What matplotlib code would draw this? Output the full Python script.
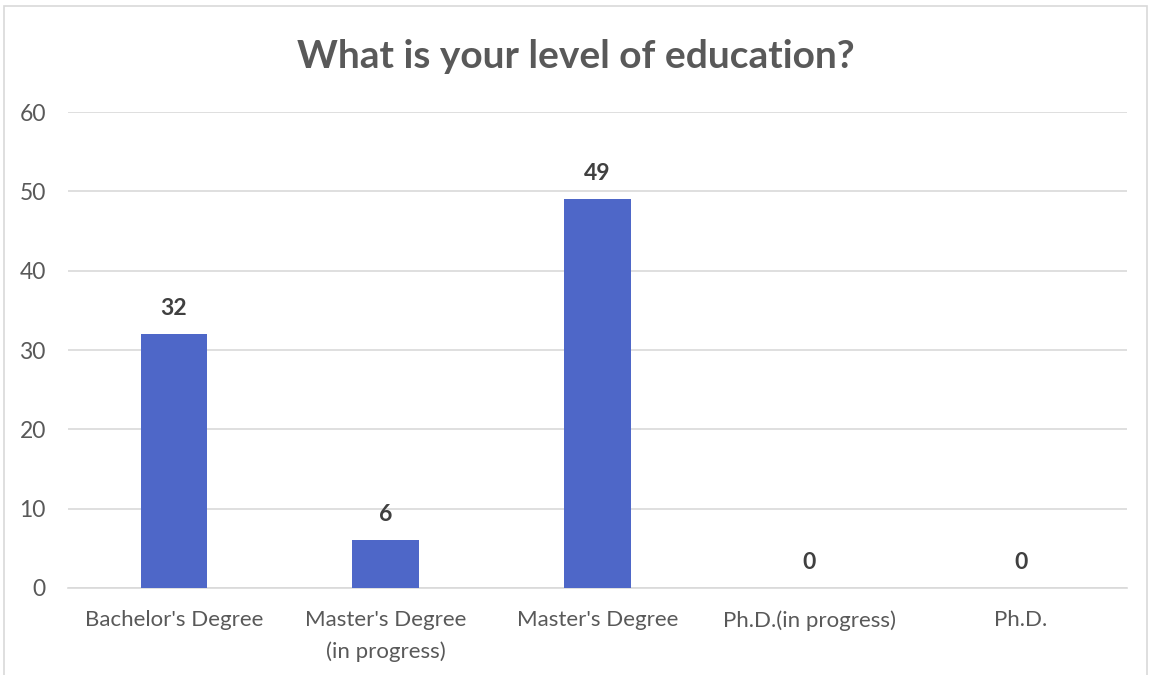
import numpy as np
import matplotlib.pyplot as plt
from matplotlib.patches import Rectangle

# Data
categories = ["Bachelor's Degree", "Master's Degree\n(in progress)", "Master's Degree",
              "Ph.D.(in progress)", "Ph.D."]
counts = [32, 6, 49, 0, 0]
yticks = [0, 10, 20, 30, 40, 50, 60]

text_col = '#595959'
bar_col = '#4E67C8'
grid_col = '#D9D9D9'

plt.rcParams['font.family'] = ['Lato', 'DejaVu Sans']

fig = plt.figure(figsize=(11.51, 6.75), dpi=100)
fig.patches.append(Rectangle((4 / 1151, -0.01), 1143 / 1151, 1 - 6 / 675 + 0.01,
                             transform=fig.transFigure, fill=False,
                             edgecolor='#D9D9D9', linewidth=1.2))

ax = fig.add_axes([68 / 1151, 87 / 675, 1059 / 1151, 476 / 675])
x = np.arange(len(categories))
bars = ax.bar(x, counts, width=0.315, color=bar_col, zorder=3)

for xi, v in zip(x, counts):
    ax.text(xi, v + 1.9, str(v), ha='center', va='bottom', fontsize=16.5,
            fontweight='bold', color='#404040')

ax.set_xlim(-0.5, len(categories) - 0.5)
ax.set_ylim(0, 60)
ax.set_yticks(yticks)
ax.set_xticks(x)
ax.set_xticklabels(categories, fontsize=16, color=text_col, linespacing=1.65)
ax.tick_params(axis='y', labelsize=16.5, labelcolor=text_col, length=0, pad=16)
ax.tick_params(axis='x', length=0, pad=16)
ax.grid(axis='y', color=grid_col, linewidth=1.2, zorder=0)
for s in ['top', 'right', 'left']:
    ax.spines[s].set_visible(False)
ax.spines['bottom'].set_color(grid_col)
ax.spines['bottom'].set_linewidth(1.2)

fig.text(0.5, 1 - 57 / 675, 'What is your level of education?', ha='center', va='center',
         fontsize=28, fontweight='bold', color=text_col)

fig.savefig('out.png', dpi=100)
